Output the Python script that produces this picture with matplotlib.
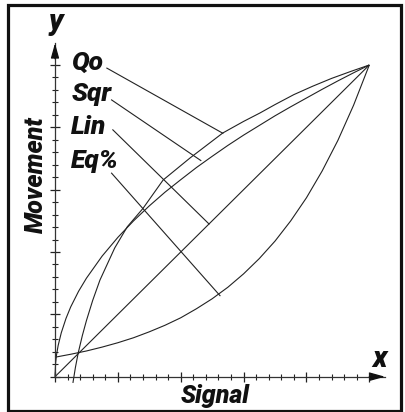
import matplotlib
matplotlib.use('Agg')
import matplotlib.pyplot as plt
import numpy as np
from matplotlib.patches import Rectangle

# curve data (signal 0..1 -> movement 0..1)
sig_lin = [0.0, 1.0]
mov_lin = [0.0, 1.0]

sig_sqr = [0, 0.002, 0.005, 0.01, 0.02, 0.035, 0.05, 0.075, 0.1, 0.15, 0.2,
           0.25, 0.3, 0.35, 0.4, 0.45, 0.5, 0.55, 0.6, 0.65, 0.7, 0.75, 0.8,
           0.85, 0.9, 0.95, 1.0]
mov_sqr = [0, 0.045, 0.071, 0.1, 0.141, 0.187, 0.224, 0.274, 0.316, 0.387, 0.447,
           0.5, 0.548, 0.592, 0.632, 0.671, 0.707, 0.742, 0.775, 0.806, 0.837, 0.866, 0.894,
           0.922, 0.949, 0.975, 1.0]

sig_qo = [0.057, 0.065, 0.074, 0.087, 0.1, 0.12, 0.143, 0.19, 0.23, 0.28,
          0.344, 0.43, 0.534, 0.6, 0.652, 0.7, 0.76, 0.82, 0.88, 0.94, 1.0]
mov_qo = [-0.02, 0.03, 0.077, 0.132, 0.18, 0.245, 0.31, 0.413, 0.481, 0.54,
          0.631, 0.702, 0.782, 0.819, 0.846, 0.873, 0.905, 0.932, 0.957, 0.979, 1.0]

sig_eq = [0, 0.05, 0.1, 0.15, 0.2, 0.25, 0.3, 0.35, 0.4, 0.45, 0.5,
          0.55, 0.6, 0.65, 0.7, 0.75, 0.8, 0.85, 0.9, 0.95, 1.0]
mov_eq = [0.0625, 0.072, 0.0825, 0.095, 0.109, 0.125, 0.144, 0.165, 0.189, 0.218, 0.25,
          0.287, 0.33, 0.379, 0.435, 0.5, 0.574, 0.66, 0.758, 0.871, 1.0]

# labels and where their leader lines touch the curves
labels = ['Qo', 'Sqr', 'Lin', 'Eq%']
label_y = [0.984, 0.884, 0.78, 0.67]
leader_start = [(0.165, 0.99), (0.18, 0.888), (0.184, 0.792), (0.18, 0.653)]
leader_end = [(0.534, 0.781), (0.464, 0.6935), (0.49, 0.49), (0.525, 0.26)]

font = dict(family=['Roboto', 'Liberation Sans', 'DejaVu Sans'],
            weight='black', style='italic', color='#111111')

xmax, ymin, ymax = 1.05, -0.03, 1.07
px, py = 314.3, 311.7   # pixels per data unit
fig = plt.figure(figsize=(4.06, 4.12), dpi=100)
ax = fig.add_axes([55 / 406, (412 - 376.7 + ymin * py) / 412,
                   xmax * px / 406, (ymax - ymin) * py / 412])
ax.set_xlim(0, xmax)
ax.set_ylim(ymin, ymax)

lc = '#222222'
for xs, ys in [(sig_lin, mov_lin), (sig_sqr, mov_sqr), (sig_qo, mov_qo), (sig_eq, mov_eq)]:
    ax.plot(xs, ys, color=lc, lw=0.8, clip_on=False, solid_capstyle='butt')

for (x0, y0), (x1, y1) in zip(leader_start, leader_end):
    ax.plot([x0, x1], [y0, y1], color=lc, lw=0.8)

for lab, ly in zip(labels, label_y):
    ax.text(0.052, ly, lab, fontsize=19, va='baseline', ha='left', **font)

# axes with ticks crossing the line
for s in ['top', 'right']:
    ax.spines[s].set_visible(False)
ax.spines['left'].set_position(('data', 0))
ax.spines['bottom'].set_position(('data', 0))
ax.spines['left'].set_bounds(0, ymax)
ax.spines['bottom'].set_bounds(0, xmax)
for s in ['left', 'bottom']:
    ax.spines[s].set_color('#333333')
    ax.spines[s].set_linewidth(0.9)

major = np.linspace(0, 1, 6)
minor = np.linspace(0, 1, 26)
ax.set_xticks(major)
ax.set_yticks(major)
ax.set_xticks(minor, minor=True)
ax.set_yticks(minor, minor=True)
ax.tick_params(which='major', direction='inout', length=7, width=0.9, color='#222222',
               labelbottom=False, labelleft=False)
ax.tick_params(which='minor', direction='inout', length=4, width=0.8, color='#222222')

# arrow heads
arrow = dict(arrowstyle='-|>,head_length=0.9,head_width=0.25', color='#111111', lw=0.9,
             shrinkA=0, shrinkB=0)
ax.annotate('', xy=(xmax, 0), xytext=(1.0, 0), arrowprops=arrow, annotation_clip=False)
ax.annotate('', xy=(0, ymax), xytext=(0, 1.02), arrowprops=arrow, annotation_clip=False)

ax.text(1.034, 0.031, 'x', fontsize=21, ha='center', va='baseline', **font)
ax.text(0.002, 1.112, 'y', fontsize=21, ha='center', va='baseline', **font)
ax.text(-0.06, 0.649, 'Movement', fontsize=18, rotation=90, ha='center', va='center', **font)
ax.text(0.51, -0.084, 'Signal', fontsize=18, ha='center', va='baseline', **font)

fig.patches.append(Rectangle((8.5 / 406, 1.5 / 412), 393 / 406, 405.5 / 412,
                             transform=fig.transFigure, fill=False, lw=2.3,
                             edgecolor='#111111'))

fig.savefig('out.png', dpi=100)
